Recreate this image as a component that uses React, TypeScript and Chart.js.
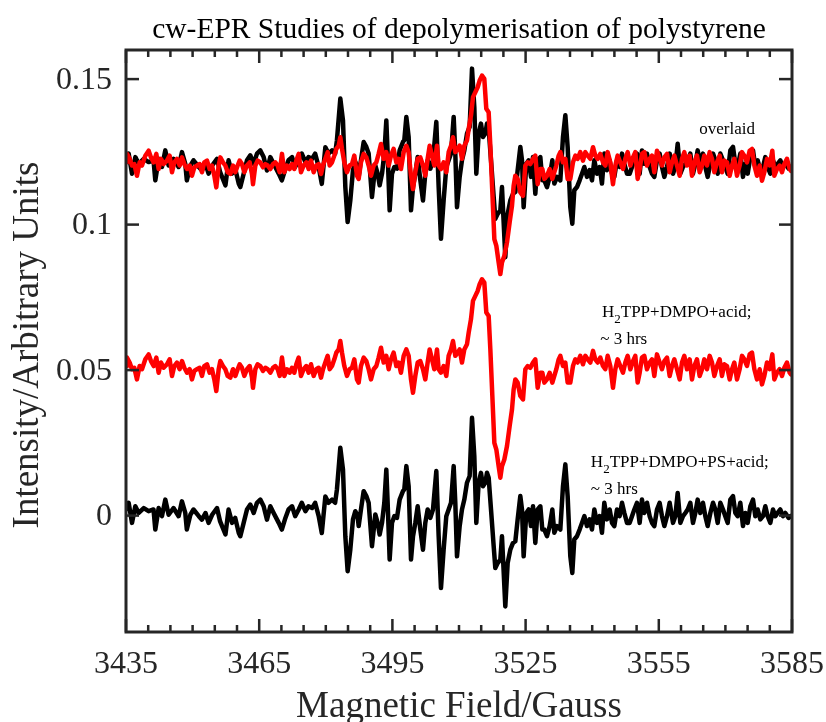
import { useEffect, useRef } from 'react';
import { Chart, registerables } from 'chart.js';

Chart.register(...registerables);

// ---------- DATA ----------
const chartTitle = 'cw-EPR Studies of depolymerisation of polystyrene';
const xAxisTitle = 'Magnetic Field/Gauss';
const yAxisTitle = 'Intensity/Arbitrary Units';

const xTickValues = [3435, 3465, 3495, 3525, 3555, 3585];
const xTickLabels = ['3435', '3465', '3495', '3525', '3555', '3585'];
const xMinorStep = 5;
const yTickValues = [0, 0.05, 0.1, 0.15];
const yTickLabels = ['0', '0.05', '0.1', '0.15'];
const xRange = [3435, 3585];
const yRange = [-0.04, 0.16];

// H2TPP+DMPO+PS+acid (black)
const psField = [
  3435, 3435.6, 3436.35, 3437.1, 3437.85, 3439.0, 3440.1, 3441.2, 3441.6, 3442.35,
  3443.1, 3443.85, 3444.6, 3445.7, 3446.85, 3447.6, 3448.35, 3448.7, 3449.5, 3450.2,
  3451.4, 3452.1, 3452.9, 3453.6, 3454.4, 3455.5, 3456.2, 3457.4, 3458.1, 3458.9,
  3459.6, 3460.4, 3460.75, 3461.5, 3462.25, 3463.0, 3463.75, 3464.5, 3465.25, 3466.0,
  3466.75, 3467.5, 3468.25, 3469.4, 3470.1, 3470.9, 3471.6, 3472.4, 3473.1, 3473.9,
  3474.6, 3475.4, 3476.1, 3476.9, 3477.6, 3478.4, 3479.1, 3479.9, 3480.6, 3481.4,
  3482.1, 3482.5, 3483.27, 3483.87, 3484.4, 3484.92, 3485.52, 3486.12, 3486.65, 3487.17,
  3487.4, 3487.92, 3488.53, 3489.13, 3489.65, 3490.4, 3491.15, 3491.68, 3492.13, 3492.66,
  3493.18, 3493.63, 3493.93, 3494.38, 3494.91, 3495.43, 3496.03, 3496.63, 3497.38, 3497.68,
  3498.14, 3498.66, 3499.19, 3499.64, 3500.16, 3500.69, 3501.29, 3501.89, 3502.41, 3502.94,
  3503.54, 3504.14, 3504.89, 3505.42, 3505.94, 3506.54, 3507.14, 3507.67, 3508.2, 3508.8,
  3509.17, 3509.55, 3510.15, 3510.67, 3511.2, 3511.8, 3512.4, 3512.93, 3513.45, 3513.9,
  3514.43, 3514.95, 3515.4, 3515.93, 3516.3, 3516.68, 3517.21, 3517.81, 3518.18, 3518.71,
  3519.31, 3519.68, 3520.43, 3520.96, 3521.56, 3522.16, 3522.69, 3523.21, 3523.81, 3524.19,
  3524.56, 3525.16, 3525.69, 3526.22, 3526.67, 3527.19, 3527.72, 3528.32, 3528.77, 3529.22,
  3529.82, 3530.42, 3531.02, 3531.47, 3532.07, 3532.82, 3533.42, 3533.95, 3534.47, 3535.07,
  3535.52, 3535.97, 3536.57, 3537.17, 3537.7, 3538.23, 3538.83, 3539.43, 3539.95, 3540.48,
  3541.08, 3541.68, 3542.2, 3542.73, 3543.33, 3543.93, 3544.46, 3544.98, 3545.58, 3546.18,
  3546.71, 3547.24, 3547.84, 3548.44, 3548.96, 3549.49, 3550.09, 3550.69, 3551.21, 3551.74,
  3552.34, 3552.94, 3553.47, 3553.99, 3554.59, 3555.19, 3555.72, 3556.25, 3556.85, 3557.45,
  3558.2, 3558.72, 3559.25, 3559.85, 3560.45, 3560.98, 3561.5, 3562.1, 3562.7, 3563.23,
  3563.75, 3564.35, 3564.95, 3565.48, 3566.01, 3566.61, 3567.21, 3567.73, 3568.26, 3568.86,
  3569.46, 3569.98, 3570.51, 3571.11, 3571.71, 3572.24, 3572.76, 3573.36, 3573.96, 3574.49,
  3575.02, 3575.62, 3576.22, 3576.74, 3577.27, 3577.87, 3578.47, 3578.99, 3579.52, 3580.12,
  3580.72, 3581.25, 3581.77, 3582.37, 3582.97, 3583.5, 3584.25, 3584.63, 3585,
];
const psIntensity = [
  0.0021, 0.0044, -0.0025, 0.0032, 0.0009, 0.0026, 0.0015, 0.0021, -0.0048, 0.0026,
  -0.0002, 0.0055, 0.0003, 0.0026, -0.0002, 0.0049, 0.0009, -0.0048, 0.0003, 0.0021,
  -0.0002, -0.0014, 0.0009, -0.0025, 0.0003, 0.0026, -0.002, -0.0065, 0.0021, -0.0025,
  -0.0008, -0.006, -0.0071, -0.0025, 0.0021, 0.0038, 0.0009, 0.0044, 0.0055, 0.0032,
  -0.0014, 0.0032, 0.0009, -0.0025, -0.0048, -0.0008, 0.0021, 0.0032, -0.0002, 0.0021,
  0.0044, 0.0015, 0.0032, 0.0026, 0.0044, -0.0002, -0.006, 0.0066, 0.0044, 0.0055,
  0.0044, 0.0089, 0.0233, 0.0158, -0.0071, -0.0191, -0.0117, -0.0013, 0.0015, -0.0002,
  -0.0036, 0.0021, 0.0084, 0.0067, 0.0044, -0.0105, 0.0004, -0.0025, -0.0065, -0.0025,
  0.0044, 0.0158, 0.0044, -0.0151, -0.0025, -0.0002, -0.0008, 0.0055, 0.0084, 0.009,
  0.017, 0.0101, -0.0151, -0.0071, -0.0025, 0.0032, -0.0048, -0.0117, -0.0025, 0.0021,
  -0.0008, 0.0021, 0.0153, -0.0071, -0.0249, -0.0117, -0.0002, 0.0021, 0.0044, 0.017,
  0.0044, -0.014, -0.0036, 0.0021, 0.0055, 0.0113, 0.0136, 0.0336, 0.0204, -0.0025,
  0.0113, 0.0147, 0.0101, 0.0113, 0.0147, 0.013, 0.0021, -0.0105, -0.018, -0.0163,
  -0.0151, -0.0071, -0.0312, -0.0163, -0.0117, -0.0094, -0.0088, -0.0013, 0.0067, 0.0021,
  -0.014, 0.0009, 0.0021, -0.0036, 0.0032, -0.0094, 0.0021, 0.0032, -0.0048, -0.0048,
  -0.0071, -0.0036, 0.0021, -0.0059, -0.0036, -0.0048, 0.0101, 0.0176, 0.0067, -0.014,
  -0.0197, -0.0082, -0.0071, -0.0048, -0.0025, -0.0002, -0.0036, -0.0013, -0.0048, 0.0021,
  -0.0025, -0.0002, -0.0059, 0.0044, -0.0013, 0.0021, -0.0025, -0.0036, 0.0021, -0.0002,
  0.0044, 0.0009, -0.0025, -0.0025, -0.0002, 0.0021, 0.0044, -0.0025, 0.0055, 0.0009,
  0.0044, -0.0002, -0.0025, -0.0036, 0.0021, 0.0044, -0.0002, -0.0036, -0.0002, 0.0044,
  -0.0025, -0.0002, 0.0078, -0.0025, -0.0002, 0.0009, 0.0021, 0.0044, -0.0025, 0.0009,
  0.0055, 0.0009, 0.0044, -0.0002, -0.0036, 0.0009, 0.0044, 0.0021, -0.0025, 0.0044,
  0.0021, -0.0002, -0.0025, 0.0055, 0.0067, 0.0009, -0.0002, 0.0044, -0.0036, 0.0009,
  -0.0025, 0.0032, 0.0055, -0.0002, 0.0021, -0.0013, -0.0002, 0.0032, -0.0002, -0.0025,
  0.0021, -0.0002, 0.0009, 0.0021, -0.0002, 0.0009, -0.0008, -0.0002, 0.0,
];

// H2TPP+DMPO+acid (red)
const acidField = [
  3435, 3435.22, 3435.82, 3436.35, 3436.87, 3437.47, 3438.07, 3438.6, 3439.35, 3440.1,
  3440.63, 3441.23, 3441.83, 3442.35, 3442.88, 3443.48, 3444.23, 3444.83, 3445.36, 3445.88,
  3446.48, 3447.08, 3447.61, 3448.14, 3448.74, 3449.34, 3449.86, 3450.39, 3450.99, 3451.59,
  3452.11, 3452.64, 3453.24, 3453.84, 3454.37, 3454.89, 3455.34, 3455.87, 3456.24, 3456.84,
  3457.37, 3457.9, 3458.5, 3459.1, 3459.62, 3460.15, 3460.6, 3461.12, 3461.65, 3462.25,
  3462.85, 3463.38, 3463.6, 3464.13, 3464.65, 3465.25, 3465.85, 3466.38, 3466.91, 3467.51,
  3468.11, 3468.63, 3469.16, 3469.61, 3470.13, 3470.66, 3471.26, 3471.86, 3472.39, 3472.91,
  3473.36, 3473.89, 3474.41, 3475.01, 3475.61, 3476.14, 3476.67, 3477.27, 3477.87, 3478.39,
  3478.92, 3479.37, 3479.89, 3480.42, 3480.87, 3481.4, 3481.92, 3482.37, 3482.9, 3483.27,
  3483.65, 3484.17, 3484.77, 3485.37, 3485.9, 3486.42, 3487.02, 3487.4, 3487.92, 3488.53,
  3489.13, 3489.65, 3490.18, 3490.78, 3491.38, 3491.9, 3492.43, 3493.03, 3493.63, 3494.16,
  3494.68, 3495.28, 3495.88, 3496.41, 3496.93, 3497.54, 3498.14, 3498.66, 3499.19, 3499.64,
  3500.16, 3500.69, 3501.29, 3501.89, 3502.41, 3502.94, 3503.39, 3503.92, 3504.44, 3505.04,
  3505.42, 3505.94, 3506.54, 3507.14, 3507.67, 3508.2, 3508.65, 3509.17, 3509.7, 3510.15,
  3510.67, 3511.2, 3511.8, 3512.18, 3512.7, 3513.15, 3513.68, 3514.2, 3514.65, 3515.18,
  3515.7, 3516.15, 3516.68, 3517.06, 3517.51, 3517.96, 3518.41, 3518.93, 3519.31, 3519.68,
  3520.21, 3520.81, 3521.41, 3521.94, 3522.31, 3522.69, 3523.21, 3523.81, 3524.41, 3524.94,
  3525.47, 3526.07, 3526.67, 3527.19, 3527.72, 3528.32, 3528.77, 3529.22, 3529.82, 3530.42,
  3531.02, 3531.47, 3531.92, 3532.45, 3532.82, 3533.42, 3533.95, 3534.47, 3535.07, 3535.67,
  3536.2, 3536.72, 3537.32, 3537.92, 3538.45, 3538.98, 3539.58, 3540.18, 3540.7, 3541.23,
  3541.83, 3542.43, 3542.96, 3543.48, 3544.08, 3544.68, 3545.21, 3545.73, 3546.33, 3546.93,
  3547.46, 3547.99, 3548.59, 3549.19, 3549.71, 3550.24, 3550.69, 3551.21, 3551.74, 3552.34,
  3552.94, 3553.47, 3553.99, 3554.59, 3555.19, 3555.72, 3556.25, 3556.85, 3557.45, 3557.97,
  3558.5, 3559.1, 3559.7, 3560.22, 3560.75, 3561.35, 3561.95, 3562.48, 3563.0, 3563.6,
  3564.2, 3564.73, 3565.25, 3565.85, 3566.45, 3566.98, 3567.51, 3568.11, 3568.71, 3569.23,
  3569.76, 3570.36, 3570.96, 3571.49, 3572.01, 3572.61, 3573.21, 3573.74, 3574.26, 3574.86,
  3575.46, 3575.99, 3576.52, 3577.12, 3577.72, 3578.24, 3578.77, 3579.37, 3579.97, 3580.57,
  3581.02, 3581.62, 3582.22, 3582.75, 3583.27, 3583.87, 3584.47, 3584.77, 3585,
];
const acidIntensity = [
  0.0514, 0.0543, 0.0526, 0.0503, 0.0508, 0.0468, 0.0514, 0.0503, 0.0537, 0.0554,
  0.0531, 0.0514, 0.0543, 0.0491, 0.0526, 0.0508, 0.052, 0.0537, 0.048, 0.0514,
  0.0526, 0.0503, 0.0531, 0.0508, 0.0491, 0.0503, 0.0468, 0.0497, 0.0503, 0.0508,
  0.048, 0.0514, 0.052, 0.0491, 0.0503, 0.0468, 0.0428, 0.0503, 0.0531, 0.0514,
  0.0503, 0.048, 0.0474, 0.0503, 0.048, 0.0503, 0.052, 0.0508, 0.048, 0.0503,
  0.0514, 0.0474, 0.0439, 0.0503, 0.052, 0.0514, 0.0497, 0.0508, 0.0503, 0.0491,
  0.0508, 0.0514, 0.0503, 0.048, 0.0543, 0.048, 0.0503, 0.0491, 0.0508, 0.0491,
  0.052, 0.0543, 0.048, 0.0503, 0.0514, 0.0491, 0.052, 0.048, 0.0503, 0.0508,
  0.0474, 0.0503, 0.0526, 0.0549, 0.0503, 0.0514, 0.0537, 0.056, 0.0571, 0.06,
  0.056, 0.0514, 0.048, 0.0503, 0.0508, 0.0537, 0.0468, 0.0457, 0.0514, 0.0543,
  0.0531, 0.0503, 0.0468, 0.0503, 0.0514, 0.0543, 0.0577, 0.0526, 0.0549, 0.0503,
  0.0537, 0.056, 0.0514, 0.0526, 0.0491, 0.0549, 0.0571, 0.0549, 0.0468, 0.0422,
  0.048, 0.0526, 0.0531, 0.0503, 0.0468, 0.0526, 0.0571, 0.0537, 0.0503, 0.0571,
  0.0503, 0.0491, 0.0514, 0.048, 0.0549, 0.0571, 0.06, 0.0549, 0.056, 0.0571,
  0.0526, 0.0571, 0.0589, 0.0629, 0.0675, 0.0738, 0.0755, 0.0772, 0.0795, 0.0812,
  0.0801, 0.0698, 0.0686, 0.0571, 0.0411, 0.025, 0.0227, 0.017, 0.013, 0.017,
  0.0193, 0.0239, 0.0308, 0.0365, 0.0434, 0.0468, 0.0457, 0.0411, 0.0399, 0.0503,
  0.0514, 0.0508, 0.0526, 0.0537, 0.0439, 0.0491, 0.0491, 0.0457, 0.0468, 0.0491,
  0.0457, 0.048, 0.0503, 0.0537, 0.0549, 0.0514, 0.0526, 0.0457, 0.0457, 0.0514,
  0.0537, 0.0526, 0.0549, 0.052, 0.0549, 0.0537, 0.0526, 0.0566, 0.0537, 0.0526,
  0.0543, 0.0514, 0.0503, 0.0549, 0.0514, 0.0439, 0.0503, 0.0537, 0.0514, 0.0491,
  0.0526, 0.0549, 0.0503, 0.0531, 0.0549, 0.0457, 0.0491, 0.0543, 0.0549, 0.0503,
  0.0526, 0.0537, 0.048, 0.0554, 0.0526, 0.0503, 0.0531, 0.0543, 0.048, 0.0514,
  0.0537, 0.0503, 0.0468, 0.0526, 0.0549, 0.0503, 0.0537, 0.0468, 0.0514, 0.0537,
  0.048, 0.0503, 0.0537, 0.0503, 0.0549, 0.0526, 0.048, 0.0514, 0.0537, 0.048,
  0.052, 0.0514, 0.0468, 0.0503, 0.0526, 0.0468, 0.0503, 0.0549, 0.0537, 0.0514,
  0.0554, 0.056, 0.0503, 0.0468, 0.0503, 0.0451, 0.048, 0.0526, 0.0503, 0.0554,
  0.0468, 0.0491, 0.0503, 0.048, 0.0508, 0.0526, 0.0491, 0.0485, 0.049,
];

// The "overlaid" pair is the same two spectra shifted upward
const overlayShiftPs = 0.12;
const overlayShiftAcid = 0.07;

// Annotation anchors (field, intensity)
const annotations = [
  { x: 3564.1, y: 0.1313, parts: [{ t: 'overlaid' }] },
  { x: 3542.2, y: 0.0682, parts: [{ t: 'H' }, { t: '2', sub: true }, { t: 'TPP+DMPO+acid;' }] },
  { x: 3541.8, y: 0.059, parts: [{ t: '~ 3 hrs' }] },
  { x: 3539.7, y: 0.0167, parts: [{ t: 'H' }, { t: '2', sub: true }, { t: 'TPP+DMPO+PS+acid;' }] },
  { x: 3539.7, y: 0.0074, parts: [{ t: '~ 3 hrs' }] },
];

const SERIF = '"Liberation Serif", "Times New Roman", Times, serif';
const AXIS_COLOR = '#262626';

const framePlugin = {
  id: 'matlabFrame',
  afterDraw(chart: any) {
    const ctx: CanvasRenderingContext2D = chart.ctx;
    const { left, right, top, bottom } = chart.chartArea;
    const xs = chart.scales.x;
    const ys = chart.scales.y;
    ctx.save();
    ctx.globalAlpha = 1;
    ctx.setLineDash([]);

    // ticks (inward, on all four sides)
    ctx.fillStyle = AXIS_COLOR;
    const tw = 2.5;
    for (let i = 0; xRange[0] + i * xMinorStep <= xRange[1] + 1e-9; i++) {
      const v = xRange[0] + i * xMinorStep;
      const px = xs.getPixelForValue(v);
      const major = xTickValues.indexOf(v) >= 0;
      const len = major ? 13 : 7;
      ctx.fillRect(px - tw / 2, bottom - len, tw, len);
      ctx.fillRect(px - tw / 2, top, tw, len);
    }
    for (const v of yTickValues) {
      const py = ys.getPixelForValue(v);
      ctx.fillRect(left, py - tw / 2, 13, tw);
      ctx.fillRect(right - 13, py - tw / 2, 13, tw);
    }

    // frame
    ctx.strokeStyle = AXIS_COLOR;
    ctx.lineWidth = 3;
    ctx.strokeRect(left, top, right - left, bottom - top);

    // tick labels
    ctx.fillStyle = AXIS_COLOR;
    ctx.font = `32px ${SERIF}`;
    ctx.textAlign = 'center';
    ctx.textBaseline = 'alphabetic';
    xTickValues.forEach((v, i) => {
      ctx.fillText(xTickLabels[i], xs.getPixelForValue(v), bottom + 41);
    });
    ctx.textAlign = 'right';
    ctx.textBaseline = 'middle';
    yTickValues.forEach((v, i) => {
      ctx.fillText(yTickLabels[i], left - 14, ys.getPixelForValue(v) + 1);
    });

    // axis titles
    ctx.font = `37px ${SERIF}`;
    ctx.textAlign = 'center';
    ctx.textBaseline = 'alphabetic';
    ctx.fillText(xAxisTitle, (left + right) / 2, bottom + 85);
    ctx.save();
    ctx.translate(28, (top + bottom) / 2 + 4);
    ctx.rotate(-Math.PI / 2);
    ctx.font = `37px ${SERIF}`;
    ctx.textBaseline = 'middle';
    ctx.fillText(yAxisTitle, 0, 0);
    ctx.restore();

    // title
    ctx.fillStyle = '#000';
    ctx.font = `29.5px ${SERIF}`;
    ctx.textAlign = 'center';
    ctx.textBaseline = 'alphabetic';
    ctx.fillText(chartTitle, (left + right) / 2, top - 12);

    // annotations
    ctx.textAlign = 'left';
    for (const a of annotations) {
      let px = xs.getPixelForValue(a.x);
      const py = ys.getPixelForValue(a.y);
      for (const p of a.parts as any[]) {
        if (p.sub) {
          ctx.font = `13px ${SERIF}`;
          ctx.fillText(p.t, px, py + 6);
        } else {
          ctx.font = `17px ${SERIF}`;
          ctx.fillText(p.t, px, py);
        }
        px += ctx.measureText(p.t).width;
      }
    }
    ctx.restore();
  },
};

export default function App() {
  const ref = useRef<HTMLCanvasElement>(null);
  useEffect(() => {
    document.body.style.margin = '0';
    const toPts = (xs: number[], ys: number[], shift: number) =>
      xs.map((x, i) => ({ x, y: ys[i] + shift }));
    const common = {
      showLine: true,
      pointRadius: 0,
      borderWidth: 4.5,
      tension: 0,
      borderJoinStyle: 'round' as const,
      borderCapStyle: 'round' as const,
      fill: false,
    };
    const chart = new Chart(ref.current as HTMLCanvasElement, {
      type: 'scatter',
      data: {
        datasets: [
          { label: 'overlaid acid', data: toPts(acidField, acidIntensity, overlayShiftAcid), borderColor: '#ff0000', order: 0, ...common },
          { label: 'overlaid PS', data: toPts(psField, psIntensity, overlayShiftPs), borderColor: '#000000', order: 1, ...common },
          { label: 'H2TPP+DMPO+acid', data: toPts(acidField, acidIntensity, 0), borderColor: '#ff0000', order: 2, ...common },
          { label: 'H2TPP+DMPO+PS+acid', data: toPts(psField, psIntensity, 0), borderColor: '#000000', order: 3, ...common },
        ],
      },
      options: {
        responsive: false,
        animation: false,
        devicePixelRatio: 1,
        layout: { padding: { left: 126, right: 34, top: 50, bottom: 90 } },
        plugins: { legend: { display: false }, tooltip: { enabled: false }, title: { display: false } },
        scales: {
          x: { type: 'linear', min: xRange[0], max: xRange[1], display: false },
          y: { type: 'linear', min: yRange[0], max: yRange[1], display: false },
        },
      },
      plugins: [framePlugin],
    } as any);
    return () => chart.destroy();
  }, []);
  return (
    <div style={{ position: 'absolute', left: 0, top: 0, width: 826, height: 722, background: '#fff' }}>
      <canvas ref={ref} width={826} height={722} style={{ display: 'block', width: 826, height: 722 }} />
    </div>
  );
}
